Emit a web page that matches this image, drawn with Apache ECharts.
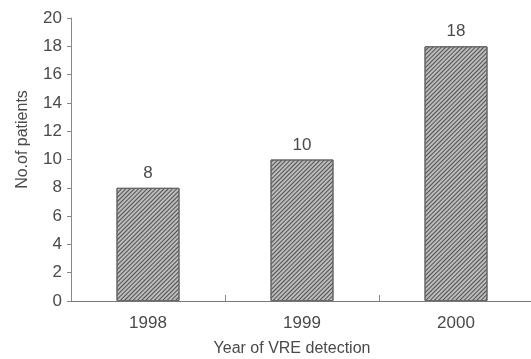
<!DOCTYPE html>
<html><head><meta charset="utf-8">
<script src="https://cdn.jsdelivr.net/npm/echarts@6/dist/echarts.min.js"></script>
<style>html,body{margin:0;padding:0;background:#fff}#c{width:531px;height:359px}</style>
</head><body><div id="c"></div>
<script>
const categories = ['1998', '1999', '2000'];
const patients = [8, 10, 18];
const yTicks = [0, 2, 4, 6, 8, 10, 12, 14, 16, 18, 20];

const chart = echarts.init(document.getElementById('c'), null, {renderer: 'canvas'});
const txt = '#4a4a4a';
chart.setOption({
  backgroundColor: '#fff',
  animation: false,
  grid: {left: 71, right: -2, top: 18, bottom: 58, containLabel: false, outerBoundsMode: 'none'},
  xAxis: {
    type: 'category',
    data: categories,
    name: 'Year of VRE detection',
    nameLocation: 'middle',
    nameGap: 40,
    nameTextStyle: {fontFamily: 'Liberation Sans', fontSize: 16, color: txt, padding: [0, 20, 0, 0]},
    axisLine: {lineStyle: {color: '#777', width: 1}},
    axisTick: {show: true, inside: true, length: 6, lineStyle: {color: '#888'}},
    axisLabel: {fontFamily: 'Liberation Sans', fontSize: 17, color: txt, margin: 14}
  },
  yAxis: {
    type: 'value',
    min: 0, max: 20, interval: 2,
    name: 'No.of patients',
    nameLocation: 'middle',
    nameGap: 40,
    nameTextStyle: {fontFamily: 'Liberation Sans', fontSize: 16, color: txt, padding: [0, 0, 0, 40]},
    axisLine: {show: true, lineStyle: {color: '#888', width: 1}},
    axisTick: {show: true, length: 4, lineStyle: {color: '#888'}},
    splitLine: {show: false},
    axisLabel: {fontFamily: 'Liberation Sans', fontSize: 17, color: txt, margin: 9,
      formatter: v => yTicks.includes(v) ? String(v) : ''}
  },
  series: [{
    type: 'bar',
    data: patients,
    barWidth: 63,
    itemStyle: {
      color: '#bcbcbc',
      borderColor: '#666',
      borderWidth: 1,
      decal: {
        symbol: 'rect',
        symbolSize: 1,
        color: '#505050',
        dashArrayX: [1, 0],
        dashArrayY: [1, 2],
        rotation: -Math.PI / 4
      }
    },
    label: {show: true, position: 'top', distance: 6, fontFamily: 'Liberation Sans', fontSize: 17, color: txt}
  }]
});
</script></body></html>
